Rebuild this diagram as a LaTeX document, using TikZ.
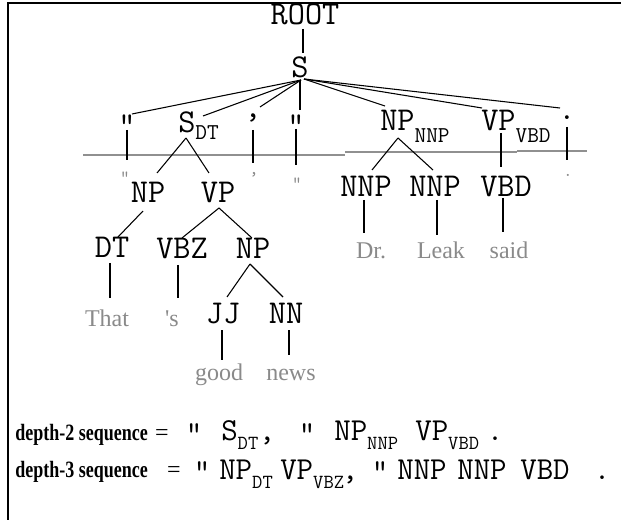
\documentclass[tikz,border=0pt]{standalone}
\usepackage{fontspec}
\setmainfont{Liberation Serif}
\newfontfamily\wordf{Liberation Serif}[Ligatures=TeXOff]
\newcommand\labfont{\ttfamily\fontsize{25}{27}\selectfont}
\newcommand\tsubfont{\ttfamily\fontsize{17}{19}\selectfont}
\newcommand\tsubA[1]{\raisebox{-5pt}{\tsubfont #1}}
\newcommand\tsubB[1]{\raisebox{-8.5pt}{\tsubfont #1}}
\newcommand\seqfont{\ttfamily\fontsize{24}{26}\selectfont}
\newcommand\seqsubfont{\ttfamily\fontsize{15}{17}\selectfont}
\newcommand\bsub[1]{\raisebox{-7pt}{\seqsubfont #1}}
\newcommand\wordfont{\wordf\fontsize{18}{20}\selectfont}
\newcommand\gpfont{\ttfamily\fontsize{14}{15}\selectfont}
\definecolor{wordgray}{HTML}{8A8A8A}
\definecolor{linegray}{HTML}{909090}
\begin{document}
\begin{tikzpicture}[x=0.75pt,y=-0.75pt,
  lab/.style={font=\labfont, inner sep=0pt, anchor=base},
  labw/.style={font=\labfont, inner sep=0pt, anchor=base west},
  word/.style={font=\wordfont, text=wordgray, inner sep=0pt, anchor=base},
  gpunct/.style={font=\gpfont, text=wordgray, inner sep=0pt, anchor=base},
  seqlab/.style={font=\seqfont, inner sep=0pt, anchor=base},
  seqw/.style={font=\seqfont, inner sep=0pt, anchor=base west},
  seqhead/.style={font=\fontsize{13.5}{15}\selectfont, inner sep=0pt, anchor=base west},
  eqs/.style={font=\fontsize{18}{20}\selectfont, inner sep=0pt, anchor=base},
  tedge/.style={line width=0.8pt, black},
  gline/.style={line width=1.1pt, linegray}
]
\useasboundingbox (0,0) rectangle (621,520);
\fill[white] (0,0) rectangle (621,520);
\draw[line width=1.3pt] (8,525) -- (8,3) -- (625,3);

% ---------- tree level 0/1 ----------
\node[lab] (root) at (305,25) {ROOT};
\node[lab] (s) at (300,78) {S};
\node[lab] (q1) at (127,136) {"};
\node[labw] (sdt) at (178,133) {S\tsubA{DT}};
\node[lab] (c1) at (253,118) {,};
\node[lab] (q2) at (296,136) {"};
\node[labw] (npnnp) at (380,131) {NP\tsubB{NNP}};
\node[labw] (vpvbd) at (481,131) {VP\tsubB{VBD}};
\node[lab] (d1) at (567,120) {.};

\coordinate (root-b) at (303,29);
\coordinate (s-t) at (303,53);
\coordinate (s-b) at (301,80);
\coordinate (s-br) at (304,79);
\coordinate (q1-in) at (132,114);
\coordinate (sdt-in) at (203,116);
\coordinate (c1-in) at (260,107);
\coordinate (q2-in) at (300,110);
\coordinate (q2-top) at (300,80);
\coordinate (npnnp-in) at (385,106);
\coordinate (vpvbd-in) at (482,108);
\coordinate (d1-in) at (560,108);

\draw[tedge] (root-b) -- (s-t);
\draw[tedge] (s-b) -- (q1-in);
\draw[tedge] (s-b) -- (sdt-in);
\draw[tedge] (s-b) -- (c1-in);
\draw[tedge] (q2-top) -- (q2-in);
\draw[tedge] (s-br) -- (npnnp-in);
\draw[tedge] (s-br) -- (vpvbd-in);
\draw[tedge] (s-br) -- (d1-in);

% grey cut line
\coordinate (gl1) at (83,155);
\coordinate (gl2) at (345,155);
\coordinate (gl3) at (345,152);
\coordinate (gl4) at (517,152);
\coordinate (gl5) at (517,151);
\coordinate (gl6) at (587,151);
\draw[gline] (gl1) -- (gl2);
\draw[gline] (gl3) -- (gl4);
\draw[gline] (gl5) -- (gl6);

% ---------- level 2 ----------
\node[gpunct] (gq1) at (125,184) {"};
\node[gpunct] (gc1) at (254,175) {,};
\node[gpunct] (gq2) at (297,190) {"};
\node[gpunct] (gd1) at (568,177) {.};
\node[lab] (np1) at (148,203) {NP};
\node[lab] (vp1) at (218,203) {VP};
\node[lab] (nnp1) at (366,197) {NNP};
\node[lab] (nnp2) at (435,197) {NNP};
\node[lab] (vbd) at (506,197) {VBD};

\coordinate (q1-o) at (127,130);  \coordinate (gq1-i) at (127,160);
\coordinate (c1-o) at (253,130);  \coordinate (gc1-i) at (253,163);
\coordinate (q2-o) at (296,129);  \coordinate (gq2-i) at (296,165);
\coordinate (d1-o) at (567,127);  \coordinate (gd1-i) at (567,160);
\coordinate (vpvbd-o) at (501,133); \coordinate (vbd-i) at (501,167);
\coordinate (sdt-o) at (186,138);
\coordinate (np1-i) at (157,173);
\coordinate (vp1-i) at (209,173);
\coordinate (npnnp-o) at (398,138);
\coordinate (nnp1-i) at (372,170);
\coordinate (nnp2-i) at (433,170);

\draw[tedge] (q1-o) -- (gq1-i);
\draw[tedge] (c1-o) -- (gc1-i);
\draw[tedge] (q2-o) -- (gq2-i);
\draw[tedge] (d1-o) -- (gd1-i);
\draw[tedge] (vpvbd-o) -- (vbd-i);
\draw[tedge] (sdt-o) -- (np1-i);
\draw[tedge] (sdt-o) -- (vp1-i);
\draw[tedge] (npnnp-o) -- (nnp1-i);
\draw[tedge] (npnnp-o) -- (nnp2-i);

% ---------- level 3 ----------
\node[lab] (dt) at (112,258) {DT};
\node[lab] (vbz) at (182,259) {VBZ};
\node[lab] (np2) at (253,259) {NP};
\coordinate (np1-o) at (143,211); \coordinate (dt-i) at (118,237);
\coordinate (vp1-o) at (219,208); \coordinate (vbz-i) at (182,238); \coordinate (np2-i) at (252,238);
\draw[tedge] (np1-o) -- (dt-i);
\draw[tedge] (vp1-o) -- (vbz-i);
\draw[tedge] (vp1-o) -- (np2-i);

\node[word] (dr) at (371,259) {Dr.};
\node[word] (leak) at (441,259) {Leak};
\node[word] (said) at (509,259) {said};
\coordinate (nnp1-o) at (364,200); \coordinate (dr-i) at (364,233);
\coordinate (nnp2-o) at (437,200); \coordinate (leak-i) at (437,235);
\coordinate (vbd-o) at (503,198); \coordinate (said-i) at (503,232);
\draw[tedge] (nnp1-o) -- (dr-i);
\draw[tedge] (nnp2-o) -- (leak-i);
\draw[tedge] (vbd-o) -- (said-i);

% ---------- level 4 ----------
\node[word] (that) at (107,326) {That};
\node[word] (apos) at (172,326) {'s};
\node[lab] (jj) at (223,323) {JJ};
\node[lab] (nn) at (286,323) {NN};
\coordinate (dt-o) at (110,263); \coordinate (that-i) at (110,298);
\coordinate (vbz-o) at (178,265); \coordinate (apos-i) at (178,298);
\coordinate (np2-o) at (250,264); \coordinate (jj-i) at (227,297); \coordinate (nn-i) at (283,297);
\draw[tedge] (dt-o) -- (that-i);
\draw[tedge] (vbz-o) -- (apos-i);
\draw[tedge] (np2-o) -- (jj-i);
\draw[tedge] (np2-o) -- (nn-i);

\node[word] (good) at (219,380) {good};
\node[word] (news) at (291,380) {news};
\coordinate (jj-o) at (222,330); \coordinate (good-i) at (222,360);
\coordinate (nn-o) at (289,330); \coordinate (news-i) at (289,355);
\draw[tedge] (jj-o) -- (good-i);
\draw[tedge] (nn-o) -- (news-i);

% ---------- sequences ----------
\node[seqhead] (h2) at (15,440) {\scalebox{1}[1.3]{\bfseries depth-2 sequence}};
\node[eqs] (e2) at (162,440) {=};
\node[seqlab] (a1) at (194,443) {"};
\node[seqw] (a2) at (221,440) {S\bsub{DT}};
\node[seqlab] (a3) at (267,440) {,};
\node[seqlab] (a4) at (307,443) {"};
\node[seqw] (a5) at (334,440) {NP\bsub{NNP}};
\node[seqw] (a6) at (415,440) {VP\bsub{VBD}};
\node[seqlab] (a7) at (495,440) {.};

\node[seqhead] (h3) at (15,477) {\scalebox{1}[1.3]{\bfseries depth-3 sequence}};
\node[eqs] (e3) at (174,477) {=};
\node[seqlab] (b1) at (202,481) {"};
\node[seqw] (b2) at (219,479) {NP\bsub{DT}};
\node[seqw] (b3) at (280,479) {VP\bsub{VBZ}};
\node[seqlab] (b4) at (350,479) {,};
\node[seqlab] (b5) at (380,481) {"};
\node[seqlab] (b6) at (422,479) {NNP};
\node[seqlab] (b7) at (482,479) {NNP};
\node[seqlab] (b8) at (545,479) {VBD};
\node[seqlab] (b9) at (602,479) {.};
\end{tikzpicture}
\end{document}
